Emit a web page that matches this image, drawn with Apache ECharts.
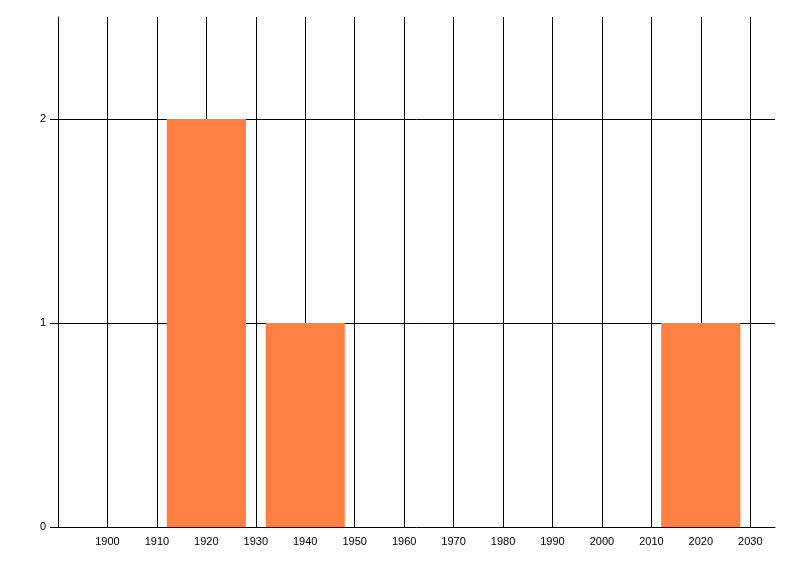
<!DOCTYPE html>
<html>
<head>
<meta charset="utf-8">
<style>html,body{margin:0;padding:0;background:#fff;}#c{width:800px;height:576px;}</style>
<script src="https://cdn.jsdelivr.net/npm/echarts@6/dist/echarts.min.js"></script>
</head>
<body>
<div id="c"></div>
<script>
const binStart = [1912, 1932, 2012];
const binEnd = [1928, 1948, 2028];
const counts = [2, 1, 1];
const yTicks = [0, 1, 2];

const chart = echarts.init(document.getElementById('c'), null, {renderer: 'canvas'});
const data = counts.map((v, i) => [binStart[i], binEnd[i], v]);
const font = {fontFamily: 'Liberation Sans, Arial, sans-serif', fontSize: 11, color: '#000'};
chart.setOption({
  animation: false,
  backgroundColor: '#fff',
  grid: {left: 58, right: 25, top: 17, bottom: 49, containLabel: false},
  xAxis: {
    type: 'value', min: 1890, max: 2035, interval: 10,
    axisLine: {show: true, lineStyle: {color: '#000', width: 1}},
    axisTick: {show: false},
    axisLabel: Object.assign({showMinLabel: false, showMaxLabel: false, margin: 9,
      formatter: function (v) { return String(v); }}, font),
    splitLine: {show: true, showMinLine: true, showMaxLine: false, lineStyle: {color: '#000', width: 1}}
  },
  yAxis: {
    type: 'value', min: 0, max: 2.5, interval: 1,
    axisLine: {show: true, lineStyle: {color: '#000', width: 1}},
    axisTick: {show: true, length: 8, customValues: yTicks, lineStyle: {color: '#000'}},
    axisLabel: Object.assign({customValues: yTicks, margin: 12}, font),
    splitLine: {show: true, showMinLine: false, showMaxLine: true, lineStyle: {color: '#000', width: 1}}
  },
  series: [{
    type: 'custom',
    data: data,
    encode: {x: [0, 1], y: 2},
    renderItem: function (params, api) {
      const p0 = api.coord([api.value(0), api.value(2)]);
      const p1 = api.coord([api.value(1), 0]);
      return {
        type: 'rect',
        shape: {x: p0[0], y: p0[1], width: p1[0] - p0[0], height: p1[1] - p0[1]},
        style: {fill: '#FF8040'}
      };
    }
  }]
});
</script>
</body>
</html>
